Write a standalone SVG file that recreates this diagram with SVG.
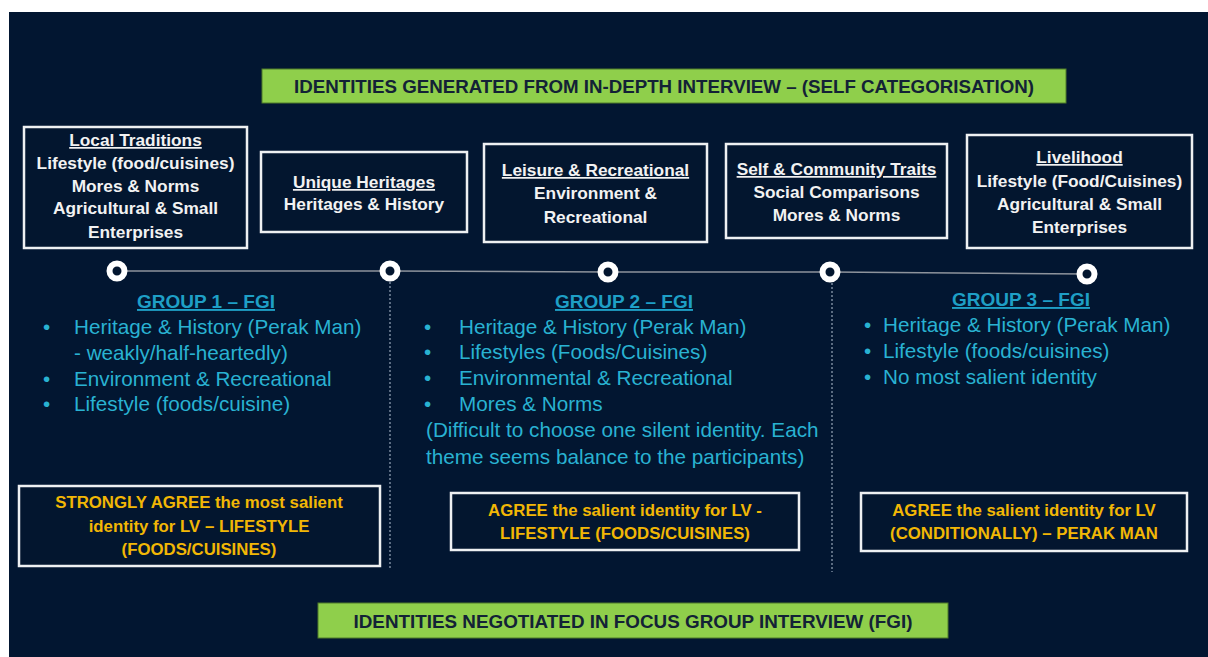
<svg xmlns="http://www.w3.org/2000/svg" width="1208" height="657" viewBox="0 0 1208 657">
<style>
.bx{fill:#03162f;stroke:#eef0f2;stroke-width:2.5}
.bt{font-family:"Liberation Sans",Arial,sans-serif;font-weight:bold;font-size:17.3px;fill:#f2f2f2;text-anchor:middle}
.u{text-decoration:underline}
.ban{fill:#8fcf4b;stroke:#4f7a2a;stroke-width:1}
.bant{font-family:"Liberation Sans",Arial,sans-serif;font-weight:bold;font-size:19px;fill:#132236;text-anchor:middle}
.gh{font-family:"Liberation Sans",Arial,sans-serif;font-weight:bold;font-size:19px;fill:#1e9fc6;text-anchor:middle;text-decoration:underline}
.gi{font-family:"Liberation Sans",Arial,sans-serif;font-size:20.7px;fill:#29b2d2}
.yt{font-family:"Liberation Sans",Arial,sans-serif;font-weight:bold;font-size:16.8px;fill:#f2b705;text-anchor:middle}
.dot{fill:#03162f;stroke:#ffffff;stroke-width:6}
.tl{fill:none;stroke:#8d939c;stroke-width:1.5}
.dv{fill:none;stroke:#5b6c82;stroke-width:2;stroke-dasharray:2 2}
</style>
<rect x="9" y="12" width="1199" height="645" fill="#021631"/>

<g id="banner-top">
<rect class="ban" x="262" y="69" width="804" height="34"/>
<text class="bant" x="664" y="93" textLength="740" lengthAdjust="spacingAndGlyphs">IDENTITIES GENERATED FROM IN-DEPTH INTERVIEW – (SELF CATEGORISATION)</text>
</g>

<g id="connectors">
<polyline class="tl" points="117,271 390,271 608,272 830,272 1087,274"/>
<line class="dv" x1="390" y1="282" x2="390" y2="570"/>
<line class="dv" x1="832" y1="283" x2="832" y2="572"/>
</g>

<g id="node-local-traditions">
<rect class="bx" x="24" y="127" width="223" height="121"/>
<text class="bt u" x="135.5" y="146">Local Traditions</text>
<text class="bt" x="135.5" y="169">Lifestyle (food/cuisines)</text>
<text class="bt" x="135.5" y="192">Mores &amp; Norms</text>
<text class="bt" x="135.5" y="214">Agricultural &amp; Small</text>
<text class="bt" x="135.5" y="238">Enterprises</text>
</g>

<g id="node-unique-heritages">
<rect class="bx" x="261" y="152" width="206" height="80"/>
<text class="bt u" x="364" y="188">Unique Heritages</text>
<text class="bt" x="364" y="210">Heritages &amp; History</text>
</g>

<g id="node-leisure">
<rect class="bx" x="484" y="144" width="223" height="98"/>
<text class="bt u" x="595.5" y="176">Leisure &amp; Recreational</text>
<text class="bt" x="595.5" y="199">Environment &amp;</text>
<text class="bt" x="595.5" y="223">Recreational</text>
</g>

<g id="node-self-community">
<rect class="bx" x="726" y="144" width="221" height="94"/>
<text class="bt u" x="836.5" y="175">Self &amp; Community Traits</text>
<text class="bt" x="836.5" y="198">Social Comparisons</text>
<text class="bt" x="836.5" y="221">Mores &amp; Norms</text>
</g>

<g id="node-livelihood">
<rect class="bx" x="967" y="135" width="225" height="113"/>
<text class="bt u" x="1079.5" y="163">Livelihood</text>
<text class="bt" x="1079.5" y="187">Lifestyle (Food/Cuisines)</text>
<text class="bt" x="1079.5" y="210">Agricultural &amp; Small</text>
<text class="bt" x="1079.5" y="233">Enterprises</text>
</g>

<g id="timeline-dots">
<circle class="dot" cx="117" cy="271" r="7.5"/>
<circle class="dot" cx="390" cy="271" r="7.5"/>
<circle class="dot" cx="608" cy="272" r="7.5"/>
<circle class="dot" cx="830" cy="272" r="7.5"/>
<circle class="dot" cx="1087" cy="274" r="7.5"/>
</g>

<g id="group1">
<text class="gh" x="206" y="308">GROUP 1 – FGI</text>
<text class="gi" x="43" y="334">•</text><text class="gi" x="74" y="334">Heritage &amp; History (Perak Man)</text>
<text class="gi" x="74" y="360">- weakly/half-heartedly)</text>
<text class="gi" x="43" y="386">•</text><text class="gi" x="74" y="386">Environment &amp; Recreational</text>
<text class="gi" x="43" y="411">•</text><text class="gi" x="74" y="411">Lifestyle (foods/cuisine)</text>
</g>

<g id="group2">
<text class="gh" x="624" y="308">GROUP 2 – FGI</text>
<text class="gi" x="424" y="334">•</text><text class="gi" x="459" y="334">Heritage &amp; History (Perak Man)</text>
<text class="gi" x="424" y="359">•</text><text class="gi" x="459" y="359">Lifestyles (Foods/Cuisines)</text>
<text class="gi" x="424" y="385">•</text><text class="gi" x="459" y="385">Environmental &amp; Recreational</text>
<text class="gi" x="424" y="411">•</text><text class="gi" x="459" y="411">Mores &amp; Norms</text>
<text class="gi" x="426" y="437">(Difficult to choose one silent identity. Each</text>
<text class="gi" x="426" y="464">theme seems balance to the participants)</text>
</g>

<g id="group3">
<text class="gh" x="1021" y="306">GROUP 3 – FGI</text>
<text class="gi" x="864" y="332">•</text><text class="gi" x="883" y="332">Heritage &amp; History (Perak Man)</text>
<text class="gi" x="864" y="358">•</text><text class="gi" x="883" y="358">Lifestyle (foods/cuisines)</text>
<text class="gi" x="864" y="384">•</text><text class="gi" x="883" y="384">No most salient identity</text>
</g>

<g id="verdict1">
<rect class="bx" x="19" y="486" width="361" height="80"/>
<text class="yt" x="199" y="508">STRONGLY AGREE the most salient</text>
<text class="yt" x="199" y="532">identity for LV – LIFESTYLE</text>
<text class="yt" x="199" y="555">(FOODS/CUISINES)</text>
</g>

<g id="verdict2">
<rect class="bx" x="451" y="493" width="348" height="57"/>
<text class="yt" x="625" y="516">AGREE the salient identity for LV -</text>
<text class="yt" x="625" y="539">LIFESTYLE (FOODS/CUISINES)</text>
</g>

<g id="verdict3">
<rect class="bx" x="861" y="493" width="326" height="58"/>
<text class="yt" x="1024" y="516">AGREE the salient identity for LV</text>
<text class="yt" x="1024" y="539">(CONDITIONALLY) – PERAK MAN</text>
</g>

<g id="banner-bottom">
<rect class="ban" x="318" y="603" width="630" height="35"/>
<text class="bant" x="633" y="628" textLength="559" lengthAdjust="spacingAndGlyphs">IDENTITIES NEGOTIATED IN FOCUS GROUP INTERVIEW (FGI)</text>
</g>
</svg>
